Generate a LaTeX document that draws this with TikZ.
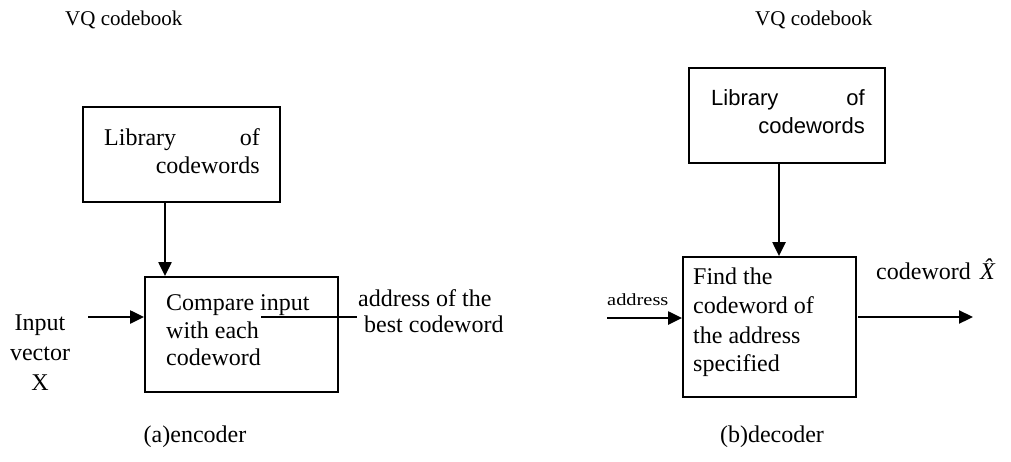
\documentclass[tikz,border=0pt]{standalone}
\usepackage{fontspec}
\setmainfont{Liberation Serif}
\newfontfamily\arialfont{Liberation Sans}
\usetikzlibrary{arrows.meta}
\begin{document}
\begin{tikzpicture}[x=1pt,y=-1pt,
  box/.style={draw,line width=1.8pt,inner sep=0pt},
  arr/.style={line width=2.2pt,-{Triangle[length=14pt,width=13pt]}},
  plain/.style={line width=2.2pt},
  txt/.style={inner sep=0pt,anchor=base west,font=\fontsize{24}{28}\selectfont},
  txtr/.style={inner sep=0pt,anchor=base east,font=\fontsize{24}{28}\selectfont},
  stxt/.style={inner sep=0pt,anchor=base west,font=\fontsize{21}{24}\selectfont},
  ctxt/.style={inner sep=0pt,anchor=base,font=\fontsize{24}{28}\selectfont},
  atxt/.style={inner sep=0pt,anchor=base east,font=\arialfont\fontsize{22}{28}\selectfont}]
\useasboundingbox (0,0) rectangle (1011,461);
\fill[white] (0,0) rectangle (1011,461);

% ---------------- encoder ----------------
\node[stxt] (vq1) at (65,25) {VQ codebook};
\node[box,minimum width=197pt,minimum height=95pt] (lib1) at (181.5,154.5) {};
\node[txt] (lib1a) at (104,145) {Library};
\node[txtr] (lib1b) at (260,145) {of};
\node[txtr] (lib1c) at (260,173) {codewords};

\node[box,minimum width=193pt,minimum height=115pt] (cmp) at (241.5,334.5) {};
\node[txt] (cmpa) at (166,310) {Compare input};
\node[txt] (cmpb) at (166,338) {with each};
\node[txt] (cmpc) at (166,365) {codeword};

\coordinate (a1) at (165,202);
\draw[arr] (a1) -- (a1 |- cmp.north);

\node[ctxt] (in1) at (40,330) {Input};
\node[ctxt] (in2) at (40,360) {vector};
\node[ctxt] (in3) at (40,390) {X};
\coordinate (inS) at (88,317);
\draw[arr] (inS) -- (inS -| cmp.west);

\coordinate (o1) at (261,317);
\coordinate (o2) at (357,317);
\draw[plain] (o1) -- (o2);
\node[txt] (adra) at (358,306) {address of the};
\node[txt] (adrb) at (364,332) {best codeword};

\node[ctxt] (capa) at (195,442) {(a)encoder};

% ---------------- decoder ----------------
\node[stxt] (vq2) at (755,25) {VQ codebook};
\node[box,minimum width=196pt,minimum height=95pt] (lib2) at (787,115.5) {};
\node[atxt,anchor=base west] (lib2a) at (711,105) {Library};
\node[atxt] (lib2b) at (865,105) {of};
\node[atxt] (lib2c) at (865,133) {codewords};

\node[box,minimum width=173pt,minimum height=140pt] (fnd) at (769.5,327) {};
\node[txt] (fnda) at (693,284) {Find the};
\node[txt] (fndb) at (693,313) {codeword of};
\node[txt] (fndc) at (693,343) {the address};
\node[txt] (fndd) at (693,371) {specified};

\coordinate (a2) at (779,163);
\draw[arr] (a2) -- (a2 |- fnd.north);

\coordinate (adS) at (607,318);
\draw[arr] (adS) -- (adS -| fnd.west);
\node[inner sep=0pt,anchor=base west,font=\fontsize{17}{20}\selectfont] (adl) at (607,305) {\scalebox{1.2}[1]{address}};

\coordinate (oS) at (858,317);
\coordinate (oE) at (973,317);
\draw[arr] (oS) -- (oE);
\node[txt] (cwl) at (876,279) {codeword};
\node[txt] (xhat) at (980,279) {\itshape\^X};

\node[ctxt] (capb) at (772,442) {(b)decoder};
\end{tikzpicture}
\end{document}
